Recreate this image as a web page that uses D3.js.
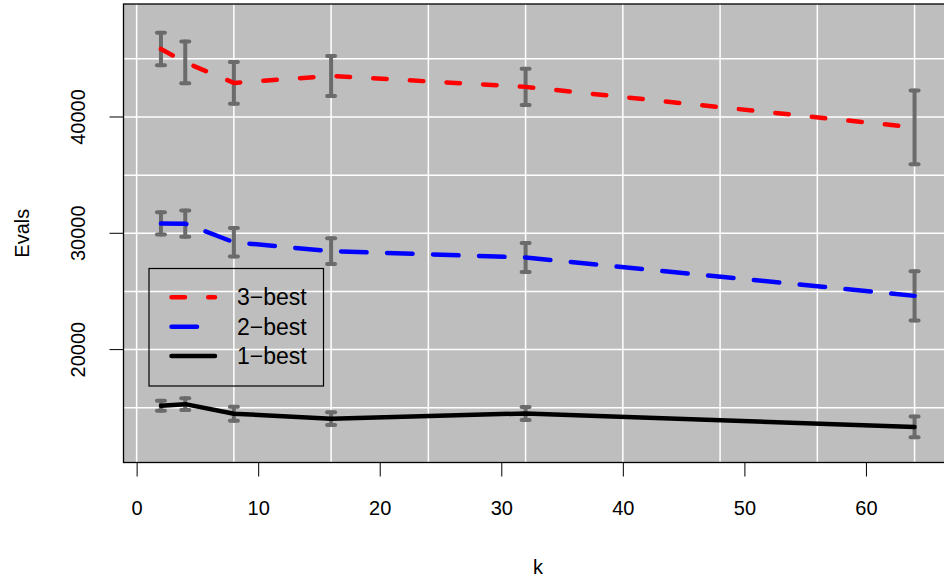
<!DOCTYPE html>
<html>
<head>
<meta charset="utf-8">
<script src="https://cdn.jsdelivr.net/npm/d3@7"></script>
<style>
    body { margin: 0; background: #fff; }
    text { font-family: 'Liberation Sans', Arial, sans-serif; fill: #000; }
</style>
</head>
<body>
<svg id="chart"></svg>
<script>
(function() {

    // k values on the x axis
    const ks = [2, 4, 8, 16, 32, 64];

    // mean evals and error half-widths per k
    const best3 = [45850, 44700, 42930, 43530, 42590, 39100];
    const best3Err = [1390, 1800, 1790, 1720, 1550, 3170];
    const best2 = [30850, 30830, 29230, 28460, 27920, 24620];
    const best2Err = [950, 1120, 1230, 1110, 1250, 2110];
    const best1 = [15180, 15310, 14490, 14060, 14510, 13350];
    const best1Err = [430, 500, 600, 550, 560, 890];

    const xTicks = [0, 10, 20, 30, 40, 50, 60];
    const yTicks = [20000, 30000, 40000];
    const xGrid = [0, 8, 16, 24, 32, 40, 48, 56, 64];
    const yGrid = [10000, 15000, 20000, 25000, 30000, 35000, 40000, 45000];

    const legendLabels = ['3\u2212best', '2\u2212best', '1\u2212best'];

    const w = 944;
    const h = 580;
    const plot = { left: 123.5, top: 4, right: 961, bottom: 462.5 };

    const x = d3.scaleLinear().domain([-1.08, 67.82]).range([plot.left, plot.right]);
    const y = d3.scaleLinear().domain([10292, 49716]).range([plot.bottom, plot.top]);

    const svg = d3.select('#chart')
        .attr('width', w)
        .attr('height', h);

    svg.append('defs').append('clipPath')
        .attr('id', 'clip')
        .append('rect')
        .attr('x', plot.left)
        .attr('y', plot.top)
        .attr('width', plot.right - plot.left)
        .attr('height', plot.bottom - plot.top);

    // background panel
    svg.append('rect')
        .attr('x', plot.left)
        .attr('y', plot.top)
        .attr('width', plot.right - plot.left)
        .attr('height', plot.bottom - plot.top)
        .attr('fill', '#bebebe');

    const g = svg.append('g').attr('clip-path', 'url(#clip)');

    g.selectAll('.vgrid')
        .data(xGrid)
        .enter()
        .append('line')
        .attr('x1', d => x(d))
        .attr('x2', d => x(d))
        .attr('y1', plot.top)
        .attr('y2', plot.bottom)
        .attr('stroke', '#fff')
        .attr('stroke-width', 1.5);

    g.selectAll('.hgrid')
        .data(yGrid)
        .enter()
        .append('line')
        .attr('x1', plot.left)
        .attr('x2', plot.right)
        .attr('y1', d => y(d))
        .attr('y2', d => y(d))
        .attr('stroke', '#fff')
        .attr('stroke-width', 1.5);

    const series = [
        { values: best3, errs: best3Err, color: '#ff0000', dash: '13.5,23.2' },
        { values: best2, errs: best2Err, color: '#0000ff', dash: '25.5,20.5' },
        { values: best1, errs: best1Err, color: '#000000', dash: null }
    ];

    // error bars first, lines drawn on top
    series.forEach(s => {
        const bars = g.append('g')
            .attr('stroke', '#6b6b6b')
            .attr('stroke-width', 4)
            .attr('stroke-linecap', 'round');

        ks.forEach((k, i) => {
            const cx = x(k);
            const top = y(s.values[i] + s.errs[i]);
            const bot = y(s.values[i] - s.errs[i]);
            bars.append('line').attr('x1', cx).attr('x2', cx).attr('y1', top).attr('y2', bot);
            bars.append('line').attr('x1', cx - 4).attr('x2', cx + 4).attr('y1', top).attr('y2', top);
            bars.append('line').attr('x1', cx - 4).attr('x2', cx + 4).attr('y1', bot).attr('y2', bot);
        });
    });

    const line = d3.line()
        .x((d, i) => x(ks[i]))
        .y(d => y(d));

    series.forEach(s => {
        g.append('path')
            .datum(s.values)
            .attr('d', line)
            .attr('fill', 'none')
            .attr('stroke', s.color)
            .attr('stroke-width', 4.5)
            .attr('stroke-linecap', 'round')
            .attr('stroke-linejoin', 'round')
            .attr('stroke-dasharray', s.dash);
    });

    // box
    svg.append('rect')
        .attr('x', plot.left)
        .attr('y', plot.top)
        .attr('width', plot.right - plot.left)
        .attr('height', plot.bottom - plot.top)
        .attr('fill', 'none')
        .attr('stroke', '#000')
        .attr('stroke-width', 1.3);

    // axes
    const xAxis = svg.append('g')
        .attr('transform', `translate(0, ${plot.bottom})`)
        .call(d3.axisBottom(x).tickValues(xTicks).tickSize(14).tickPadding(24));
    xAxis.select('.domain').remove();
    xAxis.selectAll('text')
        .attr('font-size', 20)
        .attr('font-family', 'Liberation Sans, Arial, sans-serif');

    const yAxis = svg.append('g')
        .attr('transform', `translate(${plot.left}, 0)`)
        .call(d3.axisLeft(y).tickValues(yTicks).tickSize(14).tickFormat(d3.format('d')));
    yAxis.select('.domain').remove();
    yAxis.selectAll('text')
        .attr('font-size', 20)
        .attr('font-family', 'Liberation Sans, Arial, sans-serif')
        .attr('text-anchor', 'middle')
        .attr('x', 0)
        .attr('dy', 0)
        .attr('transform', d => `translate(-38.5, ${y(d)}) rotate(-90)`)
        .attr('y', 0);
    yAxis.selectAll('.tick').attr('transform', null);
    yAxis.selectAll('.tick line').attr('y1', d => y(d)).attr('y2', d => y(d));

    svg.append('text')
        .attr('x', 538)
        .attr('y', 574)
        .attr('text-anchor', 'middle')
        .attr('font-size', 20)
        .text('k');

    svg.append('text')
        .attr('transform', `translate(28.5, ${(plot.top + plot.bottom) / 2}) rotate(-90)`)
        .attr('text-anchor', 'middle')
        .attr('font-size', 20)
        .text('Evals');

    // legend
    const legend = svg.append('g');
    legend.append('rect')
        .attr('x', 149)
        .attr('y', 268.5)
        .attr('width', 174.5)
        .attr('height', 117.5)
        .attr('fill', 'none')
        .attr('stroke', '#000')
        .attr('stroke-width', 1.2);

    const rowY = d3.scalePoint().domain(legendLabels).range([297.3, 356]);

    legendLabels.forEach((label, i) => {
        legend.append('line')
            .attr('x1', 171.5)
            .attr('x2', 215)
            .attr('y1', rowY(label))
            .attr('y2', rowY(label))
            .attr('stroke', series[i].color)
            .attr('stroke-width', 4.5)
            .attr('stroke-linecap', 'round')
            .attr('stroke-dasharray', series[i].dash);
        legend.append('text')
            .attr('x', 237)
            .attr('y', rowY(label))
            .attr('dy', '0.35em')
            .attr('font-size', 23)
            .text(label);
    });

})();
</script>
</body>
</html>
